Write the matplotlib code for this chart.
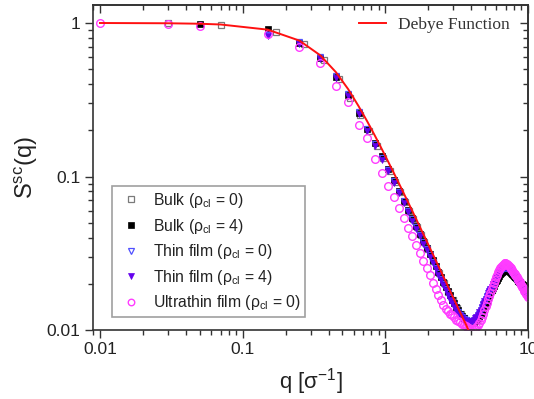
import matplotlib
matplotlib.use('Agg')
import matplotlib.pyplot as plt
from matplotlib.ticker import LogLocator, FuncFormatter, NullFormatter

plt.rcParams['font.family'] = ['Liberation Sans', 'DejaVu Sans']
plt.rcParams['mathtext.fontset'] = 'custom'
plt.rcParams['mathtext.rm'] = 'Liberation Sans'
plt.rcParams['mathtext.it'] = 'Liberation Sans:italic'

# q grid shared by most series [1/sigma]
q_main = [0.15, 0.25, 0.35, 0.45, 0.55, 0.65, 0.75, 0.85, 0.95,
          1.05, 1.15, 1.25, 1.35, 1.45, 1.55, 1.65, 1.75, 1.85, 1.95,
          2.05, 2.15, 2.25, 2.35, 2.45, 2.55, 2.65, 2.75, 2.85, 2.95,
          3.05, 3.15, 3.25, 3.35, 3.45, 3.55, 3.65, 3.75, 3.85, 3.95,
          4.05, 4.15, 4.25, 4.35, 4.45, 4.55, 4.65, 4.75, 4.85, 4.95,
          5.05, 5.15, 5.25, 5.35, 5.45, 5.55, 5.65, 5.75, 5.85, 5.95,
          6.05, 6.15, 6.25, 6.35, 6.45, 6.55, 6.65, 6.75, 6.85, 6.95,
          7.05, 7.15, 7.25, 7.35, 7.45, 7.55, 7.65, 7.75, 7.85, 7.95,
          8.05, 8.15, 8.25, 8.35, 8.45, 8.55, 8.65, 8.75, 8.85, 8.95,
          9.05, 9.15, 9.25, 9.35, 9.45, 9.55, 9.65, 9.75, 9.85, 9.95]

# Bulk (rho_cl = 0)
q_bulk0 = [0.03, 0.07, 0.17, 0.27, 0.37, 0.47, 0.57, 0.67, 0.77, 0.87, 0.97,
           1.07, 1.17, 1.27, 1.37, 1.47, 1.57, 1.67, 1.77, 1.87, 1.97,
           2.17, 2.37, 2.57, 2.77, 2.97, 3.17, 3.37, 3.57, 3.77, 3.97,
           4.17, 4.37, 4.57, 4.77, 4.97, 5.17, 5.37, 5.57, 5.77, 5.97,
           6.17, 6.37, 6.57, 6.77, 6.97, 7.17, 7.37, 7.57, 7.77, 7.97,
           8.17, 8.37, 8.57, 8.77, 8.97, 9.17, 9.37, 9.57, 9.77, 9.97]
s_bulk0 = [1.0, 0.975, 0.875, 0.725, 0.57, 0.43, 0.325, 0.250, 0.197, 0.159, 0.131,
           0.109, 0.0925, 0.0792, 0.0686, 0.0599, 0.0527, 0.0468, 0.0418, 0.0375, 0.0339,
           0.0280, 0.0236, 0.0202, 0.0176, 0.0156, 0.0139, 0.0127, 0.0119, 0.0114, 0.0111,
           0.0112, 0.0117, 0.0124, 0.0133, 0.0145, 0.0157, 0.0170, 0.0183, 0.0196, 0.0209,
           0.0221, 0.0231, 0.0239, 0.0244, 0.0246, 0.0245, 0.0242, 0.0238, 0.0232, 0.0226,
           0.0220, 0.0214, 0.0208, 0.0204, 0.0200, 0.0196, 0.0193, 0.0191, 0.0189, 0.0187]

# Bulk (rho_cl = 4)
q_bulk4 = [0.05] + q_main
s_bulk4 = [0.99,
           0.915, 0.740, 0.595, 0.447, 0.338, 0.260, 0.205, 0.165, 0.135,
           0.112, 0.0945, 0.0807, 0.0697, 0.0607, 0.0535, 0.0474, 0.0423, 0.0380, 0.0343,
           0.0311, 0.0284, 0.0260, 0.0239, 0.0221, 0.0205, 0.0191, 0.0179, 0.0168, 0.0158,
           0.0149, 0.0141, 0.0134, 0.0128, 0.0123, 0.0119, 0.0116, 0.0114, 0.0112, 0.0111,
           0.0111, 0.0112, 0.0114, 0.0116, 0.0119, 0.0123, 0.0127, 0.0132, 0.0137, 0.0143,
           0.0149, 0.0155, 0.0161, 0.0168, 0.0174, 0.0181, 0.0188, 0.0194, 0.0201, 0.0207,
           0.0213, 0.0219, 0.0225, 0.0230, 0.0234, 0.0238, 0.0241, 0.0243, 0.0245, 0.0246,
           0.0246, 0.0245, 0.0244, 0.0242, 0.0240, 0.0238, 0.0235, 0.0232, 0.0229, 0.0226,
           0.0223, 0.0220, 0.0217, 0.0214, 0.0211, 0.0208, 0.0206, 0.0204, 0.0202, 0.0200,
           0.0198, 0.0196, 0.0195, 0.0193, 0.0192, 0.0191, 0.0190, 0.0189, 0.0188, 0.0187]

# Thin film (rho_cl = 0)
q_thin0 = q_main
s_thin0 = [0.840, 0.750, 0.600, 0.452, 0.343, 0.262, 0.204, 0.163, 0.132,
           0.111, 0.0935, 0.0798, 0.0689, 0.0600, 0.0528, 0.0468, 0.0417, 0.0374, 0.0338,
           0.0306, 0.0279, 0.0255, 0.0234, 0.0216, 0.0200, 0.0186, 0.0173, 0.0162, 0.0153,
           0.0145, 0.0138, 0.0131, 0.0126, 0.0122, 0.0118, 0.0116, 0.0114, 0.0113, 0.0113,
           0.0114, 0.0115, 0.0117, 0.0120, 0.0124, 0.0128, 0.0133, 0.0139, 0.0145, 0.0151,
           0.0157, 0.0163, 0.0170, 0.0176, 0.0183, 0.0189, 0.0196, 0.0202, 0.0208, 0.0214,
           0.0220, 0.0226, 0.0232, 0.0237, 0.0242, 0.0246, 0.0250, 0.0253, 0.0255, 0.0256,
           0.0255, 0.0253, 0.0250, 0.0247, 0.0243, 0.0239, 0.0235, 0.0231, 0.0227, 0.0223,
           0.0219, 0.0215, 0.0211, 0.0208, 0.0204, 0.0201, 0.0198, 0.0195, 0.0193, 0.0191,
           0.0189, 0.0187, 0.0185, 0.0183, 0.0182, 0.0180, 0.0179, 0.0178, 0.0177, 0.0176]

# Thin film (rho_cl = 4)
q_thin4 = q_main
s_thin4 = [0.820, 0.735, 0.585, 0.440, 0.335, 0.255, 0.198, 0.158, 0.128,
           0.108, 0.0912, 0.0779, 0.0672, 0.0586, 0.0516, 0.0457, 0.0407, 0.0365, 0.0330,
           0.0299, 0.0272, 0.0249, 0.0228, 0.0211, 0.0195, 0.0181, 0.0169, 0.0158, 0.0149,
           0.0141, 0.0134, 0.0128, 0.0123, 0.0119, 0.0116, 0.0114, 0.0113, 0.0112, 0.0113,
           0.0114, 0.0116, 0.0119, 0.0122, 0.0126, 0.0131, 0.0136, 0.0142, 0.0148, 0.0154,
           0.0160, 0.0166, 0.0173, 0.0179, 0.0186, 0.0192, 0.0198, 0.0205, 0.0211, 0.0217,
           0.0223, 0.0229, 0.0235, 0.0240, 0.0245, 0.0249, 0.0253, 0.0256, 0.0258, 0.0258,
           0.0257, 0.0255, 0.0252, 0.0248, 0.0244, 0.0240, 0.0236, 0.0231, 0.0227, 0.0222,
           0.0218, 0.0214, 0.0210, 0.0206, 0.0202, 0.0199, 0.0196, 0.0193, 0.0190, 0.0188,
           0.0186, 0.0184, 0.0182, 0.0180, 0.0179, 0.0177, 0.0176, 0.0175, 0.0174, 0.0173]

# Ultrathin film (rho_cl = 0)
q_ultra = [0.01, 0.03, 0.05] + q_main
s_ultra = [1.0, 0.985, 0.95,
           0.850, 0.695, 0.550, 0.390, 0.305, 0.215, 0.177, 0.130, 0.106,
           0.087, 0.073, 0.0625, 0.0537, 0.0465, 0.0408, 0.0357, 0.0317, 0.0282, 0.0252,
           0.0227, 0.0203, 0.0184, 0.0168, 0.0156, 0.0146, 0.0138, 0.0132, 0.0128, 0.0125,
           0.0121, 0.0117, 0.0114, 0.0112, 0.0110, 0.0108, 0.0106, 0.0104, 0.0103, 0.0102,
           0.0101, 0.0101, 0.0102, 0.0104, 0.0107, 0.0111, 0.0116, 0.0122, 0.0128, 0.0135,
           0.0143, 0.0151, 0.0159, 0.0167, 0.0175, 0.0184, 0.0193, 0.0202, 0.0211, 0.0220,
           0.0229, 0.0237, 0.0245, 0.0252, 0.0258, 0.0263, 0.0267, 0.0270, 0.0272, 0.0272,
           0.0271, 0.0269, 0.0266, 0.0262, 0.0258, 0.0254, 0.0249, 0.0245, 0.0240, 0.0236,
           0.0232, 0.0228, 0.0224, 0.0220, 0.0216, 0.0212, 0.0208, 0.0204, 0.0201, 0.0197,
           0.0194, 0.0190, 0.0187, 0.0184, 0.0180, 0.0177, 0.0174, 0.0171, 0.0168, 0.0165]

# Debye function curve
debye_q = [0.01, 0.03, 0.05, 0.07,
           0.15, 0.25, 0.35, 0.45, 0.55, 0.65, 0.75, 0.85, 0.95,
           1.05, 1.15, 1.25, 1.35, 1.45, 1.55, 1.65, 1.75, 1.85, 1.95,
           2.05, 2.15, 2.25, 2.35, 2.45, 2.55, 2.65, 2.75, 2.85, 2.95,
           3.05, 3.15, 3.25, 3.35, 3.45, 3.55, 3.65, 3.75, 3.85, 3.95]
debye_s = [1.0, 0.996, 0.989, 0.978,
           0.905, 0.768, 0.616, 0.479, 0.370, 0.287, 0.227, 0.1826, 0.1495,
           0.1243, 0.1049, 0.0896, 0.0773, 0.0674, 0.0593, 0.0525, 0.0468, 0.0420, 0.0379,
           0.0343, 0.0313, 0.0286, 0.0262, 0.0242, 0.0223, 0.0207, 0.0192, 0.0179, 0.0167,
           0.0157, 0.0147, 0.0138, 0.0130, 0.0123, 0.0116, 0.0110, 0.0104, 0.00986, 0.00937]

labels = ['Bulk (ρ$_{\\mathrm{cl}}$ = 0)', 'Bulk (ρ$_{\\mathrm{cl}}$ = 4)',
          'Thin film (ρ$_{\\mathrm{cl}}$ = 0)', 'Thin film (ρ$_{\\mathrm{cl}}$ = 4)',
          'Ultrathin film (ρ$_{\\mathrm{cl}}$ = 0)']

fig = plt.figure(figsize=(5.34, 3.99), dpi=100)
ax = fig.add_axes([93 / 534, 1 - 330 / 399, 435 / 534, 325 / 399])
ax.set_xscale('log')
ax.set_yscale('log')

h1, = ax.plot(q_bulk0, s_bulk0, ls='none', marker='s', ms=4.5, mfc='none', mec='#7a7a7a', mew=0.9)
h2, = ax.plot(q_bulk4, s_bulk4, ls='none', marker='s', ms=4.5, mfc='black', mec='black', mew=0.5)
h3, = ax.plot(q_thin0, s_thin0, ls='none', marker='v', ms=5, mfc='none', mec='#5050ff', mew=0.9)
h4, = ax.plot(q_thin4, s_thin4, ls='none', marker='v', ms=5, mfc='#6400ee', mec='#6400ee', mew=0.5)
h5, = ax.plot(q_ultra, s_ultra, ls='none', marker='o', ms=5.5, mfc='none', mec='#ff3cff', mew=1.0)
hd, = ax.plot(debye_q, debye_s, color='#ff1010', lw=1.4, zorder=5)

ax.set_xlim(0.00894, 10)
ax.set_ylim(0.01, 1.31)

fmt = FuncFormatter(lambda v, p: '%g' % v)


def set_log_ticks(axis, labelled):
    axis.set_major_locator(LogLocator(base=10))
    axis.set_minor_locator(LogLocator(base=10, subs=range(2, 10)))
    axis.set_major_formatter(fmt if labelled else NullFormatter())
    axis.set_minor_formatter(NullFormatter())


set_log_ticks(ax.xaxis, True)
set_log_ticks(ax.yaxis, True)

# bottom / left: ticks outward with labels
ax.tick_params(which='both', direction='out', top=False, right=False, colors='#333333',
               labelcolor='#222222', labelsize=12.5, width=1.0)
ax.tick_params(which='major', length=6)
ax.tick_params(which='minor', length=3.5)
ax.tick_params(axis='x', which='major', pad=3)
ax.tick_params(axis='y', which='major', pad=3)

# top / right: ticks inward, no labels
sec_x = ax.secondary_xaxis('top')
sec_y = ax.secondary_yaxis('right')
set_log_ticks(sec_x.xaxis, False)
set_log_ticks(sec_y.yaxis, False)
for sec in (sec_x, sec_y):
    sec.tick_params(which='both', direction='in', colors='#333333', width=1.0)
    sec.tick_params(which='major', length=6)
    sec.tick_params(which='minor', length=3.5)
    for sp in sec.spines.values():
        sp.set_linewidth(1.2)
        sp.set_color('#333333')

for sp in ax.spines.values():
    sp.set_linewidth(1.2)
    sp.set_color('#333333')

ax.set_xlabel('q [σ$^{\\mathrm{-1}}$]', fontsize=16, color='#222222', labelpad=6)
ax.set_ylabel('S$^{\\mathrm{sc}}$(q)', fontsize=17, color='#222222', labelpad=5)

leg1 = ax.legend([h1, h2, h3, h4, h5], labels, loc='lower left', bbox_to_anchor=(0.044, 0.04),
                 fontsize=11.3, numpoints=1, markerscale=0.85, handlelength=1.8,
                 handletextpad=0.5, borderpad=0.3, labelspacing=0.42, borderaxespad=0,
                 frameon=True, fancybox=False, framealpha=1, edgecolor='#a0a0a0')
leg1.get_frame().set_linewidth(1.2)
for t in leg1.get_texts():
    t.set_color('#222222')
ax.add_artist(leg1)

leg2 = ax.legend([hd], ['Debye Function'], loc='upper right', bbox_to_anchor=(0.975, 0.985),
                 prop={'family': 'Liberation Serif', 'size': 12.5}, handlelength=1.6,
                 handletextpad=0.7, borderaxespad=0, frameon=False)
for t in leg2.get_texts():
    t.set_color('#333333')

fig.savefig('out.png', dpi=100)
